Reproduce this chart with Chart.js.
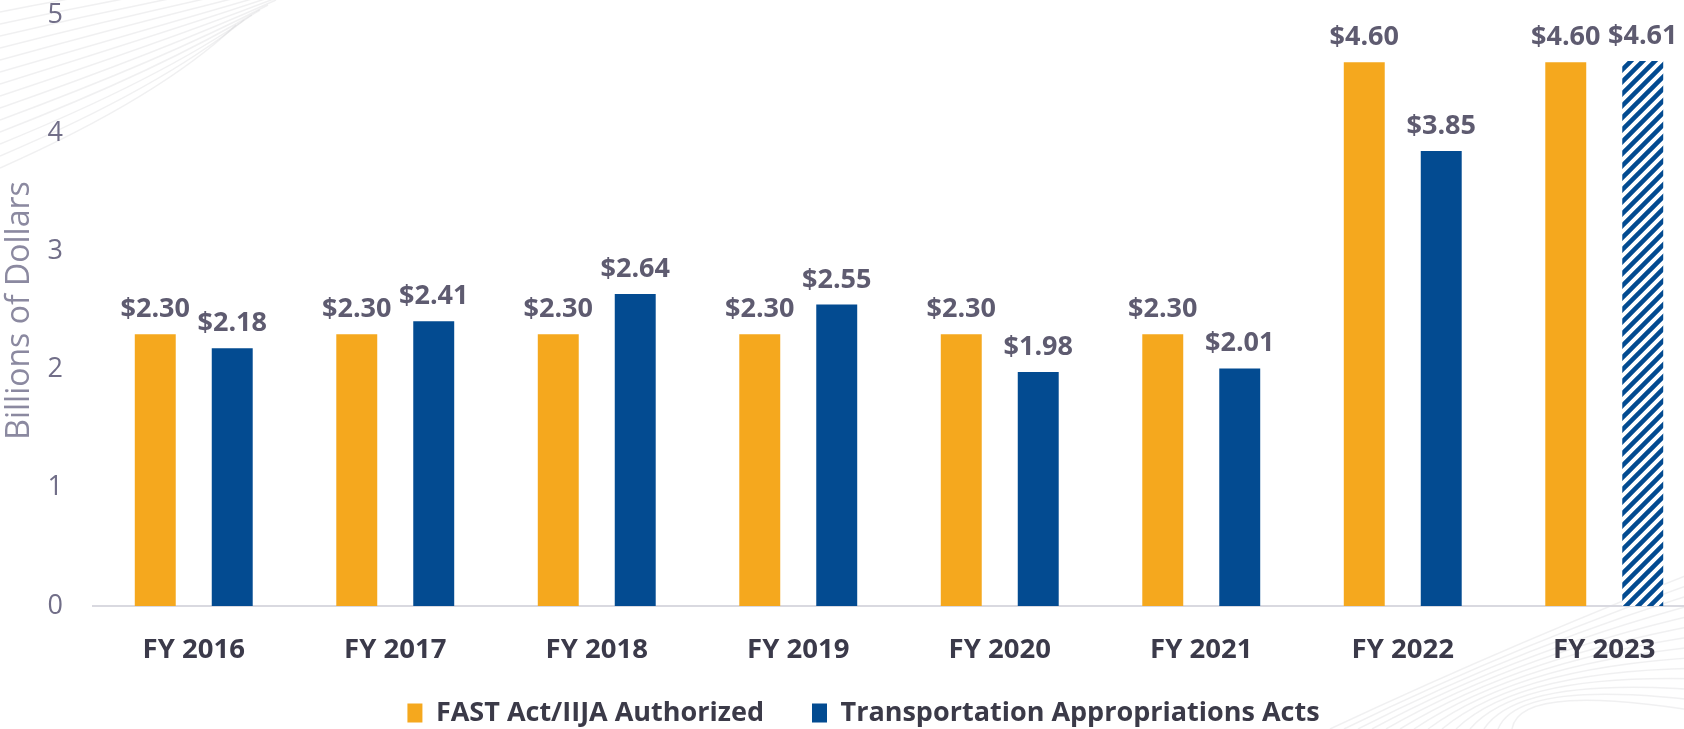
<!DOCTYPE html>
<html>
<head>
<meta charset="utf-8">
<script src="https://cdn.jsdelivr.net/npm/chart.js@4/dist/chart.umd.min.js"></script>
<style>
    html, body { margin: 0; padding: 0; background: #fff; overflow: hidden; }
    #wrap { position: relative; width: 1726px; height: 729px; }
</style>
</head>
<body>
<div id="wrap"><canvas id="fundChart"></canvas></div>
<script>
// カテゴリと系列データ
const years = ['FY 2016', 'FY 2017', 'FY 2018', 'FY 2019', 'FY 2020', 'FY 2021', 'FY 2022', 'FY 2023'];
const authorized = [2.30, 2.30, 2.30, 2.30, 2.30, 2.30, 4.60, 4.60];
const appropriated = [2.18, 2.41, 2.64, 2.55, 1.98, 2.01, 3.85, 4.61];
const yTicks = [0, 1, 2, 3, 4, 5];

const ORANGE = '#F5A81E';
const BLUE = '#034B91';
const FONT = "'Open Sans', 'Noto Sans', sans-serif";

// 斜線パターン（FY 2023 の見込み値用）
function makeHatch(color) {
    const size = 12;
    const c = document.createElement('canvas');
    c.width = size; c.height = size;
    const g = c.getContext('2d');
    g.fillStyle = '#fff';
    g.fillRect(0, 0, size, size);
    g.strokeStyle = color;
    g.lineWidth = 4.5;
    g.beginPath();
    g.moveTo(-size, 2 * size); g.lineTo(2 * size, -size);
    g.moveTo(-size, size); g.lineTo(size, -size);
    g.moveTo(0, 2 * size); g.lineTo(2 * size, 0);
    g.stroke();
    return g.createPattern(c, 'repeat');
}
const hatch = makeHatch(BLUE);
const blueFills = appropriated.map((v, i) => i === appropriated.length - 1 ? hatch : BLUE);

// 背景の薄い曲線（飾り）
const backdrop = {
    id: 'backdrop',
    beforeDraw(chart) {
        const ctx = chart.ctx;
        ctx.save();
        ctx.strokeStyle = 'rgba(205,205,210,0.3)';
        ctx.lineWidth = 1.5;
        for (let i = 0; i < 14; i++) {
            ctx.beginPath();
            ctx.moveTo(0, 12 + i * 12);
            ctx.quadraticCurveTo(160, -20 + i * 9, 340 - i * 8, -40 + i * 5);
            ctx.stroke();
        }
        for (let i = 0; i < 14; i++) {
            ctx.beginPath();
            ctx.moveTo(1330 + i * 14, 729);
            ctx.quadraticCurveTo(1520, 640 + i * 3, 1726, 560 + i * 12);
            ctx.stroke();
        }
        ctx.restore();
    }
};

// 棒の上に金額ラベル
const valueLabels = {
    id: 'valueLabels',
    afterDatasetsDraw(chart) {
        const ctx = chart.ctx;
        ctx.save();
        ctx.font = `bold 27px ${FONT}`;
        ctx.fillStyle = '#5E5B70';
        ctx.textAlign = 'center';
        ctx.textBaseline = 'alphabetic';
        chart.data.datasets.forEach((ds, di) => {
            chart.getDatasetMeta(di).data.forEach((bar, i) => {
                ctx.fillText('$' + ds.data[i].toFixed(2), bar.x, bar.y - 17);
            });
        });
        ctx.restore();
    }
};

// 凡例の位置を微調整（x 軸ラベルとの間隔・中央寄せ）
const legendShift = {
    id: 'legendShift',
    afterLayout(chart) {
        const lg = chart.legend;
        lg.top -= 11.5;
        lg.bottom -= 11.5;
        lg.left += 11;
        lg.right += 11;
    }
};

new Chart(document.getElementById('fundChart'), {
    type: 'bar',
    data: {
        labels: years,
        datasets: [
            {
                label: 'FAST Act/IIJA Authorized',
                data: authorized,
                backgroundColor: ORANGE,
                categoryPercentage: 0.764,
                barPercentage: 0.532
            },
            {
                label: 'Transportation Appropriations Acts',
                data: appropriated,
                backgroundColor: blueFills,
                categoryPercentage: 0.764,
                barPercentage: 0.532
            }
        ]
    },
    options: {
        responsive: true,
        maintainAspectRatio: false,
        animation: false,
        layout: { padding: { top: 15, right: 21, bottom: -19, left: 0 } },
        scales: {
            x: {
                afterFit(scale) { scale.height = 57; },
                grid: { display: false, drawTicks: false },
                border: { color: '#D9D9E0', width: 2 },
                ticks: {
                    padding: 30,
                    color: '#3B3A4A',
                    font: { family: FONT, size: 27.5, weight: 'bold', lineHeight: 1 }
                }
            },
            y: {
                min: 0,
                max: 5,
                afterBuildTicks(scale) {
                    scale.ticks = yTicks.map(v => ({ value: v }));
                },
                afterFit(scale) {
                    scale.width = 93;
                    scale.paddingTop = 0;
                    scale.paddingBottom = 0;
                },
                grid: { display: false, drawTicks: false },
                border: { display: false },
                ticks: {
                    padding: 30,
                    color: '#716E88',
                    font: { family: FONT, size: 27 }
                },
                title: {
                    display: true,
                    text: 'Billions of Dollars',
                    color: '#8B89A0',
                    padding: { top: 1, bottom: 0 },
                    font: { family: FONT, size: 32 }
                }
            }
        },
        plugins: {
            legend: {
                position: 'bottom',
                labels: {
                    boxWidth: 15,
                    boxHeight: 19,
                    padding: 48,
                    color: '#3B3A48',
                    font: { family: FONT, size: 27, weight: 'bold' },
                    generateLabels(chart) {
                        return chart.data.datasets.map((ds, i) => ({
                            text: ds.label,
                            fillStyle: i === 0 ? ORANGE : BLUE,
                            strokeStyle: 'transparent',
                            lineWidth: 0,
                            fontColor: '#3B3A48',
                            datasetIndex: i
                        }));
                    }
                }
            },
            tooltip: { enabled: false }
        }
    },
    plugins: [backdrop, valueLabels, legendShift]
});
</script>
</body>
</html>
